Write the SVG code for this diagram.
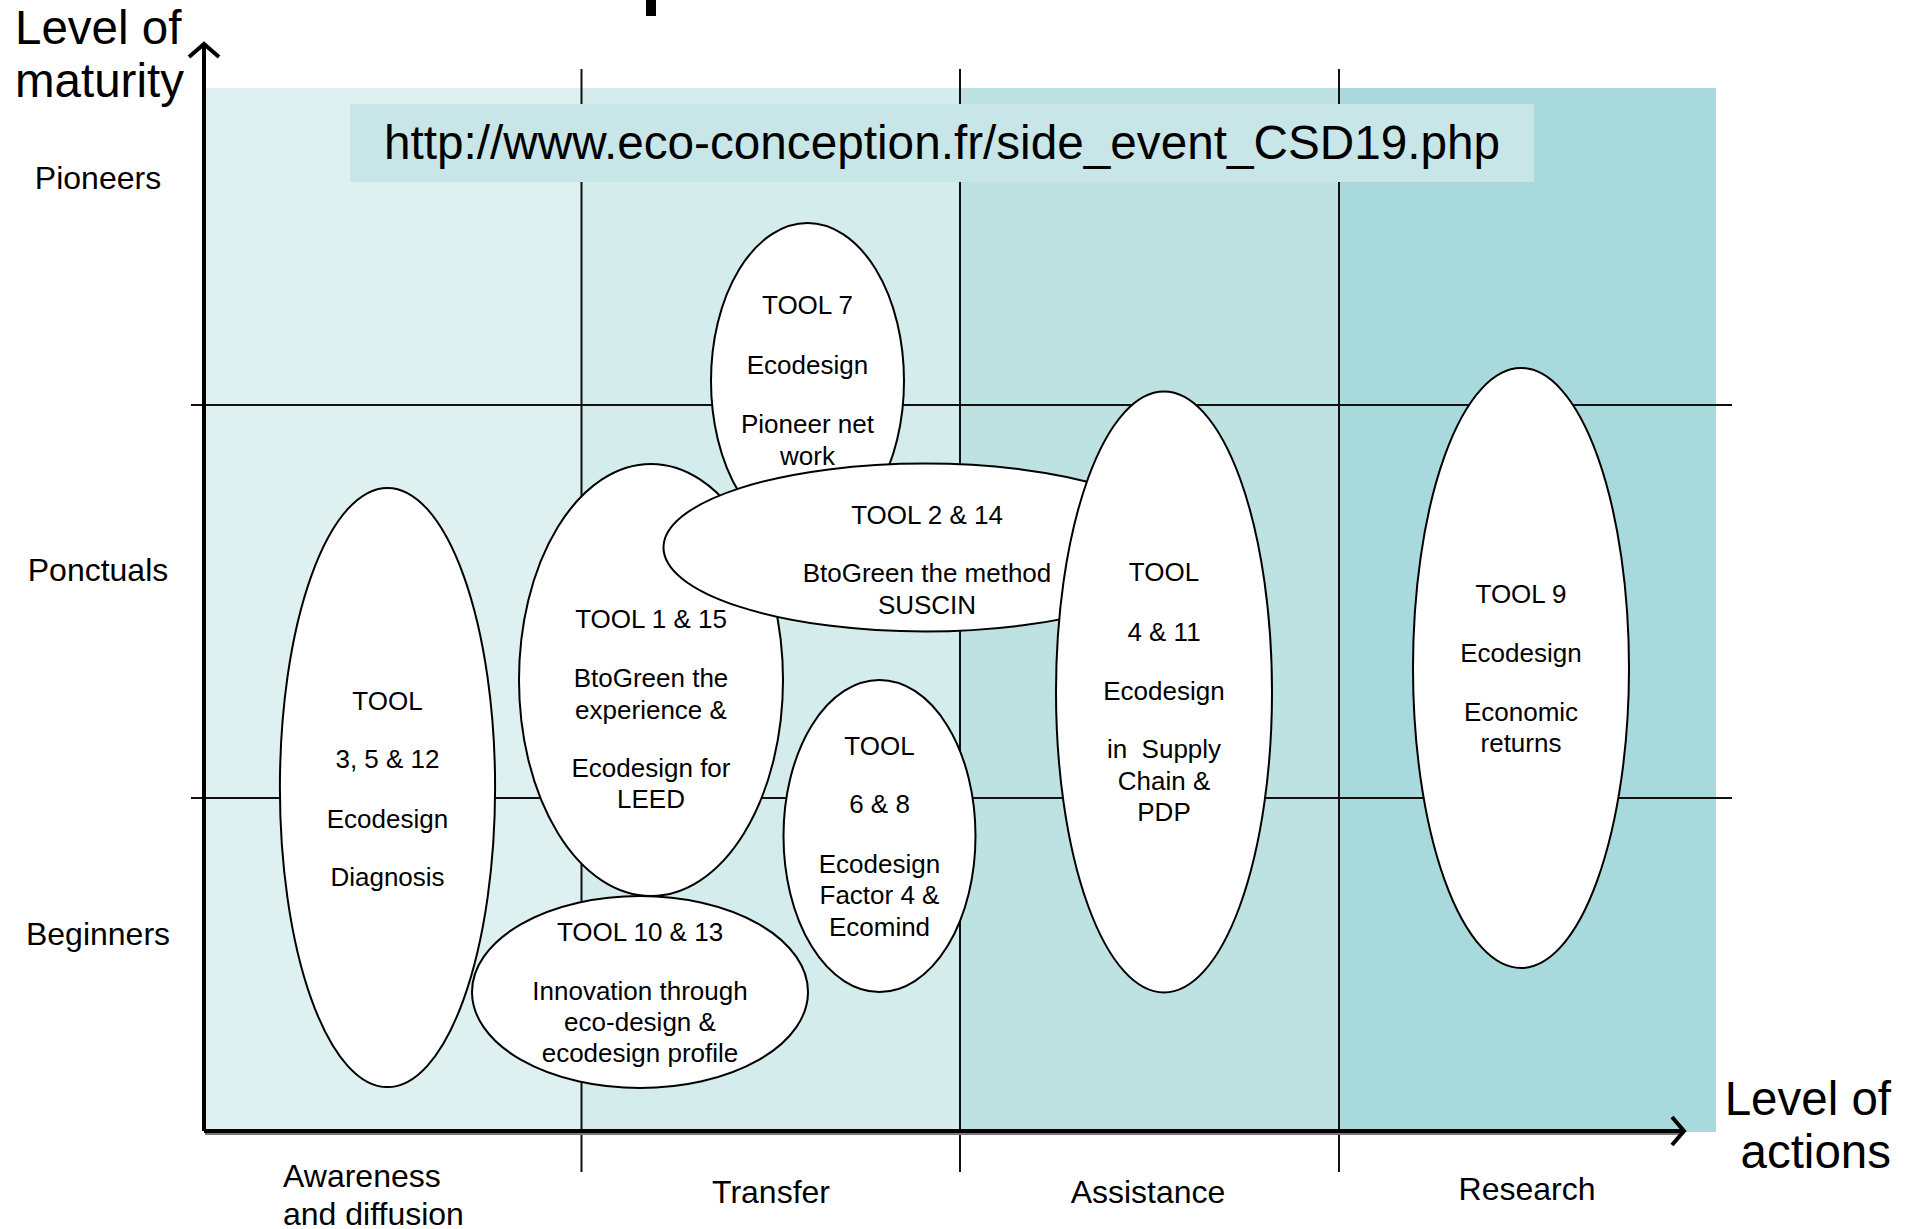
<svg xmlns="http://www.w3.org/2000/svg" width="1905" height="1229" viewBox="0 0 1905 1229">
<style>
text{font-family:"Liberation Sans",Arial,sans-serif;fill:#000}
.t{font-size:26px;text-anchor:middle}
.ax{font-size:32px}
.big{font-size:47.5px}
.node ellipse{fill:#fff;stroke:#000;stroke-width:2}
.grid line{stroke:#111;stroke-width:2}
</style>
<rect x="0" y="0" width="1905" height="1229" fill="#fff"/>
<rect x="646" y="0" width="10" height="16" fill="#000"/>
<g id="background">
<rect x="205" y="88" width="376" height="1044" fill="#dff0f0"/>
<rect x="581" y="88" width="379" height="1044" fill="#d4ecec"/>
<rect x="960" y="88" width="379" height="1044" fill="#bee1e2"/>
<rect x="1339" y="88" width="377" height="1044" fill="#a8d9dc"/>
</g>
<g class="grid" id="grid">
<line x1="581.5" y1="69" x2="581.5" y2="1172"/>
<line x1="960" y1="69" x2="960" y2="1172"/>
<line x1="1339" y1="69" x2="1339" y2="1172"/>
<line x1="191" y1="405" x2="1732" y2="405"/>
<line x1="191" y1="798" x2="1732" y2="798"/>
</g>
<g id="url">
<rect x="350" y="104" width="1184" height="78" fill="#c8e6e8"/>
<text x="942" y="159" font-size="47.7" text-anchor="middle">http://www.eco-conception.fr/side_event_CSD19.php</text>
</g>
<g id="axes">
<line x1="205" y1="1133" x2="1683" y2="1133" stroke="#777" stroke-width="4"/>
<line x1="204" y1="1131" x2="1684" y2="1131" stroke="#000" stroke-width="4"/>
<path d="M1672,1117 L1684,1131 L1672,1145" fill="none" stroke="#000" stroke-width="4"/>
<line x1="204" y1="1131" x2="204" y2="45" stroke="#000" stroke-width="4"/>
<path d="M189,57 L204,44 L219,57" fill="none" stroke="#000" stroke-width="4"/>
</g>
<g id="axis-labels">
<text class="big" x="15" y="44">Level of</text>
<text class="big" x="15" y="97">maturity</text>
<text class="big" x="1891" y="1115" text-anchor="end">Level of</text>
<text class="big" x="1891" y="1168" text-anchor="end">actions</text>
<text class="ax" x="98" y="188.5" text-anchor="middle">Pioneers</text>
<text class="ax" x="98" y="581" text-anchor="middle">Ponctuals</text>
<text class="ax" x="98" y="945" text-anchor="middle">Beginners</text>
<text class="ax" x="283" y="1187">Awareness</text>
<text class="ax" x="283" y="1225">and diffusion</text>
<text class="ax" x="771" y="1203" text-anchor="middle">Transfer</text>
<text class="ax" x="1148" y="1203" text-anchor="middle">Assistance</text>
<text class="ax" x="1527" y="1200" text-anchor="middle">Research</text>
</g>
<g class="node" id="tool7">
<ellipse cx="807.5" cy="381" rx="96.5" ry="158"/>
<text class="t" x="807.5" y="314">TOOL 7</text>
<text class="t" x="807.5" y="373.5">Ecodesign</text>
<text class="t" x="807.5" y="433">Pioneer net</text>
<text class="t" x="807.5" y="464.5">work</text>
</g>
<g class="node" id="tool1-15">
<ellipse cx="651" cy="680" rx="132" ry="216"/>
<text class="t" x="651" y="628">TOOL 1 &amp; 15</text>
<text class="t" x="651" y="687">BtoGreen the</text>
<text class="t" x="651" y="719">experience &amp;</text>
<text class="t" x="651" y="777">Ecodesign for</text>
<text class="t" x="651" y="808">LEED</text>
</g>
<g class="node" id="tool2-14">
<ellipse cx="925" cy="547.5" rx="261.5" ry="84"/>
<text class="t" x="927" y="523.5">TOOL 2 &amp; 14</text>
<text class="t" x="927" y="582">BtoGreen the method</text>
<text class="t" x="927" y="613.5">SUSCIN</text>
</g>
<g class="node" id="tool4-11">
<ellipse cx="1164" cy="692" rx="108" ry="300.5"/>
<text class="t" x="1164" y="581">TOOL</text>
<text class="t" x="1164" y="640.5">4 &amp; 11</text>
<text class="t" x="1164" y="699.5">Ecodesign</text>
<text class="t" x="1164" y="757.5" xml:space="preserve">in  Supply</text>
<text class="t" x="1164" y="789.5">Chain &amp;</text>
<text class="t" x="1164" y="821">PDP</text>
</g>
<g class="node" id="tool3-5-12">
<ellipse cx="387.5" cy="787.5" rx="107.6" ry="299.6"/>
<text class="t" x="387.5" y="710">TOOL</text>
<text class="t" x="387.5" y="768">3, 5 &amp; 12</text>
<text class="t" x="387.5" y="828">Ecodesign</text>
<text class="t" x="387.5" y="886">Diagnosis</text>
</g>
<g class="node" id="tool10-13">
<ellipse cx="640" cy="992" rx="168" ry="96"/>
<text class="t" x="640" y="941">TOOL 10 &amp; 13</text>
<text class="t" x="640" y="999.5">Innovation through</text>
<text class="t" x="640" y="1031">eco-design &amp;</text>
<text class="t" x="640" y="1062">ecodesign profile</text>
</g>
<g class="node" id="tool6-8">
<ellipse cx="879.5" cy="836" rx="96" ry="156"/>
<text class="t" x="879.5" y="754.5">TOOL</text>
<text class="t" x="879.5" y="813">6 &amp; 8</text>
<text class="t" x="879.5" y="872.5">Ecodesign</text>
<text class="t" x="879.5" y="904">Factor 4 &amp;</text>
<text class="t" x="879.5" y="936">Ecomind</text>
</g>
<g class="node" id="tool9">
<ellipse cx="1521" cy="668" rx="108" ry="300"/>
<text class="t" x="1521" y="603">TOOL 9</text>
<text class="t" x="1521" y="662">Ecodesign</text>
<text class="t" x="1521" y="720.5">Economic</text>
<text class="t" x="1521" y="752">returns</text>
</g>
<g id="connectors"></g>
</svg>
